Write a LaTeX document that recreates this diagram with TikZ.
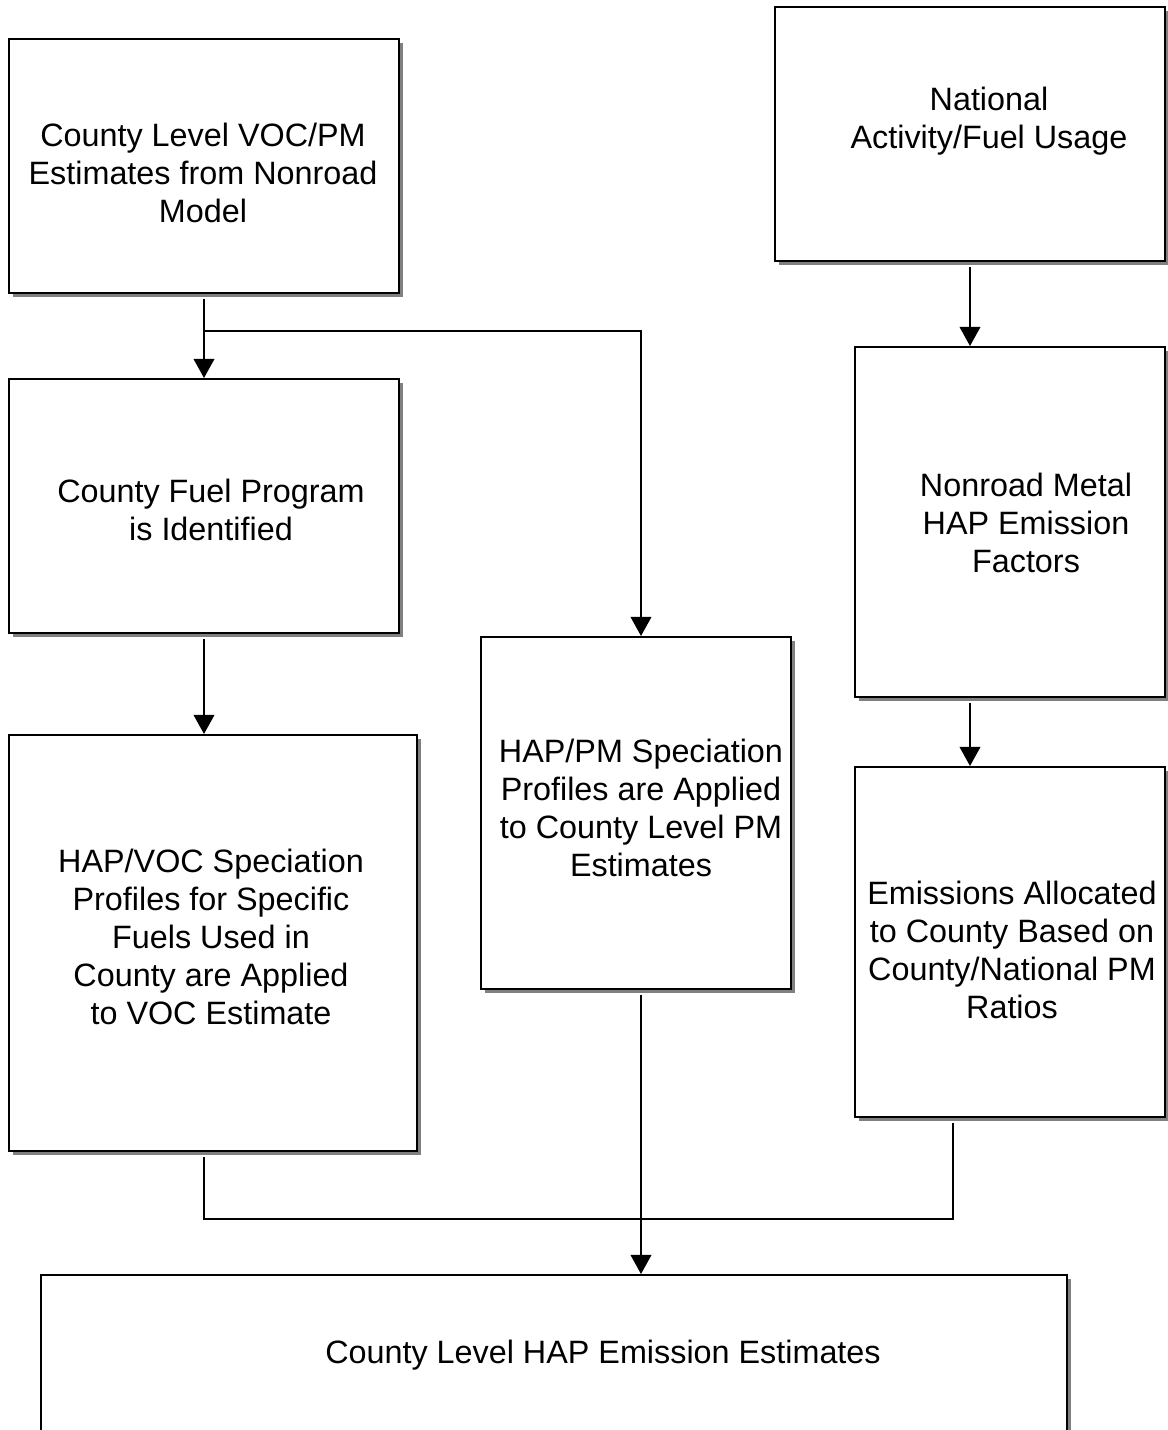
\documentclass[tikz,border=0pt]{standalone}
\usepackage{fontspec}
\setmainfont{Liberation Sans}
\usetikzlibrary{arrows.meta, positioning, calc, shadows}
\definecolor{shade}{RGB}{128, 128, 128}
\tikzstyle{stage} = [rectangle, draw=black, line width=1.4pt, fill=white, drop shadow={shadow xshift=0.1cm, shadow yshift=-0.1cm, fill=shade, opacity=1}]
\tikzstyle{boxtext} = [align=center, inner sep=0pt, font=\fontsize{23}{27}\selectfont]
\tikzstyle{link} = [line width=1.2pt]
\tikzstyle{arrow} = [link, -{Triangle[length=0.48cm, width=0.52cm]}]

\begin{document}
\begin{tikzpicture}[x=0.025cm, y=-0.025cm]
    \path[use as bounding box, clip] (0,0) rectangle (1168,1430);

    % Left column
    \node[stage, minimum width=9.75cm, minimum height=6.35cm] (cvoc) at (204,166) {};
    \node[boxtext] (cvoc-t) at (203,173) {County Level VOC/PM\\Estimates from Nonroad\\Model};

    \node[stage, minimum width=9.75cm, minimum height=6.35cm] (fuel) at (204,506) {};
    \node[boxtext] (fuel-t) at (211,510) {County Fuel Program\\is Identified};

    \node[stage, minimum width=10.2cm, minimum height=10.4cm] (hapvoc) at (213,943) {};
    \node[boxtext] (hapvoc-t) at (211,937) {HAP/VOC Speciation\\Profiles for Specific\\Fuels Used in\\County are Applied\\to VOC Estimate};

    % Middle column
    \node[stage, minimum width=7.75cm, minimum height=8.8cm] (happm) at (636,813) {};
    \node[boxtext] (happm-t) at (641,808) {HAP/PM Speciation\\Profiles are Applied\\to County Level PM\\Estimates};

    % Right column
    \node[stage, minimum width=9.75cm, minimum height=6.35cm] (natl) at (970,134) {};
    \node[boxtext] (natl-t) at (989,121) {National\\Activity/Fuel Usage};

    \node[stage, minimum width=7.75cm, minimum height=8.75cm] (metal) at (1010,522) {};
    \node[boxtext] (metal-t) at (1026,523) {Nonroad Metal\\HAP Emission\\Factors};

    \node[stage, minimum width=7.75cm, minimum height=8.75cm] (alloc) at (1010,942) {};
    \node[boxtext] (alloc-t) at (1012,950) {Emissions Allocated\\to County Based on\\County/National PM\\Ratios};

    % Result
    \node[stage, minimum width=25.65cm, minimum height=4.25cm] (final) at (554,1360) {};
    \node[boxtext] (final-t) at (603,1355) {County Level HAP Emission Estimates};

    % Junctions
    \coordinate (split) at (203,331);
    \coordinate (merge) at (641,1219);

    % Flow arrows
    \draw[arrow] ([yshift=-0.12cm]cvoc.south) -- (fuel.north);
    \draw[arrow] (split) -| (happm.north -| merge);
    \draw[arrow] ([yshift=-0.12cm]fuel.south) -- (hapvoc.north -| fuel.south);
    \draw[arrow] ([yshift=-0.12cm]natl.south) -- (metal.north -| natl.south);
    \draw[arrow] ([yshift=-0.12cm]metal.south -| natl.south) -- (alloc.north -| natl.south);

    % Merge into result
    \draw[link] ([yshift=-0.12cm]hapvoc.south -| fuel.south) |- (merge) -| ([xshift=-1.425cm, yshift=-0.12cm]alloc.south);
    \draw[arrow] ([yshift=-0.12cm]happm.south -| merge) -- (final.north -| merge);
\end{tikzpicture}
\end{document}
